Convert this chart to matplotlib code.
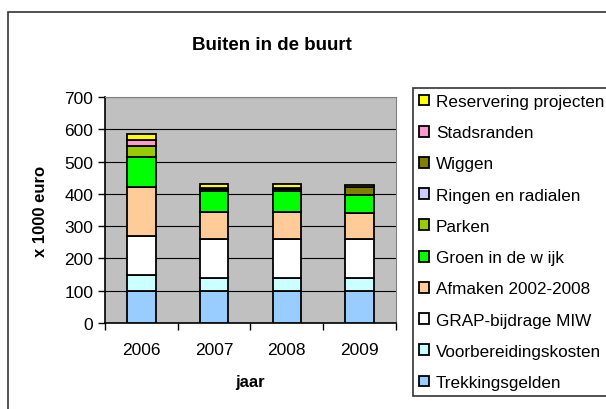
import matplotlib.pyplot as plt
import numpy as np
from matplotlib.patches import Rectangle

plt.rcParams['font.family'] = ['Liberation Sans', 'DejaVu Sans']

years = ['2006', '2007', '2008', '2009']
series = ['Trekkingsgelden', 'Voorbereidingskosten', 'GRAP-bijdrage MIW',
          'Afmaken 2002-2008', 'Groen in de w ijk', 'Parken',
          'Ringen en radialen', 'Wiggen', 'Stadsranden', 'Reservering projecten']
trekkingsgelden = [100, 100, 100, 100]
voorbereiding = [50, 40, 40, 40]
grap = [120, 120, 120, 120]
afmaken = [150, 85, 85, 80]
groen = [95, 63, 63, 58]
parken = [32, 6, 6, 0]
ringen = [0, 0, 0, 0]
wiggen = [0, 5, 5, 24]
stadsranden = [19, 0, 0, 0]
reservering = [19, 11, 11, 6]
colors = ['#99CCFF', '#CCFFFF', '#FFFFFF', '#FFCC99', '#00FF00', '#99CC00',
          '#CCCCFF', '#808000', '#FF99CC', '#FFFF00']

values = [trekkingsgelden, voorbereiding, grap, afmaken, groen, parken,
          ringen, wiggen, stadsranden, reservering]

fig = plt.figure(figsize=(6.06, 4.10), dpi=100)
fig.patches.append(Rectangle((7.5 / 606, -0.1), 1.2, 1 - 13 / 410 + 0.1,
                             transform=fig.transFigure, fill=False,
                             edgecolor='#333333', linewidth=1.2))
ax = fig.add_axes([105 / 606, 1 - 324 / 410, 291 / 606, 226 / 410])
ax.set_facecolor('#C0C0C0')

ind = np.arange(len(years))
bottom = np.zeros(len(years))
handles = []
for name, vals, col in zip(series, values, colors):
    b = ax.bar(ind, vals, 0.39, bottom=bottom, color=col, edgecolor='black',
               linewidth=1.3, label=name, zorder=3)
    handles.append(b)
    bottom += np.array(vals)

ax.set_xlim(-0.5, 3.5)
ax.set_ylim(0, 700)
ax.set_yticks(range(0, 701, 100))
ax.yaxis.grid(True, color='black', linewidth=0.8, zorder=1)
ax.set_xticks(ind)
ax.set_xticklabels(years, fontsize=12.5)
ax.set_xticks(np.arange(-0.5, 4, 1), minor=True)
ax.tick_params(axis='x', which='major', length=0, pad=14)
ax.tick_params(axis='x', which='minor', length=5, width=1)
ax.tick_params(axis='y', labelsize=12.5, length=5, width=1)
for s in ['top', 'right']:
    ax.spines[s].set_color('#808080')
for s in ['left', 'bottom']:
    ax.spines[s].set_linewidth(1.2)

ax.set_xlabel('jaar', fontsize=12, fontweight='bold', labelpad=12)
ax.set_ylabel('x 1000 euro', fontsize=12, fontweight='bold', labelpad=12)
fig.text(272 / 606, 1 - 45 / 410, 'Buiten in de buurt', fontsize=13.5,
         fontweight='bold', ha='center', va='center')

leg = fig.legend(handles[::-1], series[::-1], loc='upper left',
                 bbox_to_anchor=(413 / 606, 1 - 89 / 410), fontsize=12.3,
                 handlelength=0.6, handleheight=0.6, handletextpad=0.4,
                 labelspacing=0.95, borderpad=0.35, borderaxespad=0,
                 fancybox=False, framealpha=1, edgecolor='#333333')
leg.get_frame().set_linewidth(1.2)

plt.savefig('out.png')
